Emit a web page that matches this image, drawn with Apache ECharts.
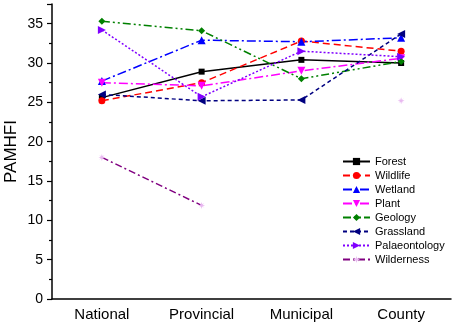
<!DOCTYPE html>
<html>
<head>
<meta charset="utf-8">
<script src="https://cdn.jsdelivr.net/npm/echarts@6/dist/echarts.min.js"></script>
<style>
  html, body { margin: 0; padding: 0; background: #fff; }
  #chart { width: 459px; height: 327px; }
</style>
</head>
<body>
<div id="chart"></div>
<script>
// categories along x
const levels = ['National', 'Provincial', 'Municipal', 'County']

// PAMHFI values per protected-area type
const forest = [25.6, 28.9, 30.4, 30.0]
const wildlife = [25.2, 27.5, 32.8, 31.5]
const wetland = [27.7, 32.9, 32.7, 33.2]
const plant = [27.5, 27.1, 29.0, 30.6]
const geology = [35.3, 34.1, 28.0, 30.2]
const grassland = [26.0, 25.2, 25.3, 33.7]
const palaeontology = [34.2, 25.7, 31.5, 30.8]
const wilderness = [18.0, 11.9, null, 25.2]

const FONT = '"Liberation Sans", Arial, sans-serif'
const STAR = 'path://M0,-10 L2,-3 L8,-7 L3,-2 L10,0 L3,2 L8,7 L2,3 L0,10 L-2,3 L-8,7 L-3,2 L-10,0 L-3,-2 L-8,-7 L-2,-3 Z'

const chart = echarts.init(document.getElementById('chart'))

function line(name, data, color, dash, symbol, size, rotate, symColor) {
  return {
    name: name,
    type: 'line',
    data: data,
    xAxisIndex: 0,
    symbol: symbol,
    symbolSize: size,
    symbolRotate: rotate || 0,
    connectNulls: false,
    lineStyle: { color: color, width: 1.5, type: dash },
    itemStyle: { color: symColor || color },
    emphasis: { disabled: true },
    animation: false,
  }
}

const option = {
  backgroundColor: '#fff',
  animation: false,
  grid: { left: 52, right: 8, top: 4, bottom: 28, containLabel: false, outerBoundsMode: 'none' },
  legend: {
    orient: 'vertical',
    left: 337,
    top: 149.5,
    itemWidth: 27,
    itemHeight: 9,
    itemGap: 0,
    textStyle: { fontFamily: FONT, fontSize: 11, color: '#000', lineHeight: 14 },
    data: ['Forest', 'Wildlife', 'Wetland', 'Plant', 'Geology', 'Grassland', 'Palaeontology', 'Wilderness'],
  },
  xAxis: [
    {
      type: 'category',
      data: levels,
      boundaryGap: true,
      axisLine: { lineStyle: { color: '#000', width: 1.5 } },
      axisTick: { alignWithLabel: true, length: 5, lineStyle: { color: '#000', width: 1.2 } },
      axisLabel: { fontFamily: FONT, fontSize: 15, color: '#000', margin: 8 },
      splitLine: { show: false },
    },
    {
      type: 'category',
      data: levels,
      position: 'bottom',
      boundaryGap: true,
      axisLine: { show: false },
      axisTick: { length: 3, lineStyle: { color: '#000', width: 1.2 } },
      axisLabel: { show: false },
      splitLine: { show: false },
    },
  ],
  yAxis: {
    type: 'value',
    name: 'PAMHFI',
    nameLocation: 'middle',
    nameGap: 32,
    nameMoveOverlap: false,
    nameTextStyle: { fontFamily: FONT, fontSize: 17, color: '#000' },
    min: 0,
    max: 37.5,
    interval: 5,
    axisLine: { show: true, lineStyle: { color: '#000', width: 1.5 } },
    axisTick: { show: true, length: 5, lineStyle: { color: '#000', width: 1.2 } },
    minorTick: { show: true, splitNumber: 2, length: 3, lineStyle: { color: '#000', width: 1.2 } },
    axisLabel: {
      fontFamily: FONT, fontSize: 14, color: '#000', margin: 9,
      formatter: v => (v % 5 === 0 ? String(v) : ''),
    },
    splitLine: { show: false },
  },
  series: [
    line('Forest', forest, '#000000', 'solid', 'rect', 6),
    line('Wildlife', wildlife, '#ff0000', [7, 4], 'circle', 7),
    line('Wetland', wetland, '#0000ff', [9, 3, 2, 3], 'triangle', 8),
    line('Plant', plant, '#ff00ff', [9, 3, 2, 3], 'triangle', 8, 180),
    line('Geology', geology, '#008000', [8, 3, 2, 3, 2, 3], 'diamond', 7),
    line('Grassland', grassland, '#000080', [4, 3], 'triangle', 8, 90),
    line('Palaeontology', palaeontology, '#8000ff', [2, 2], 'triangle', 8, -90),
    line('Wilderness', wilderness, '#800080', [7, 3, 2, 3], STAR, 7, 0, '#e8b8f0'),
  ],
}

chart.setOption(option)
</script>
</body>
</html>
